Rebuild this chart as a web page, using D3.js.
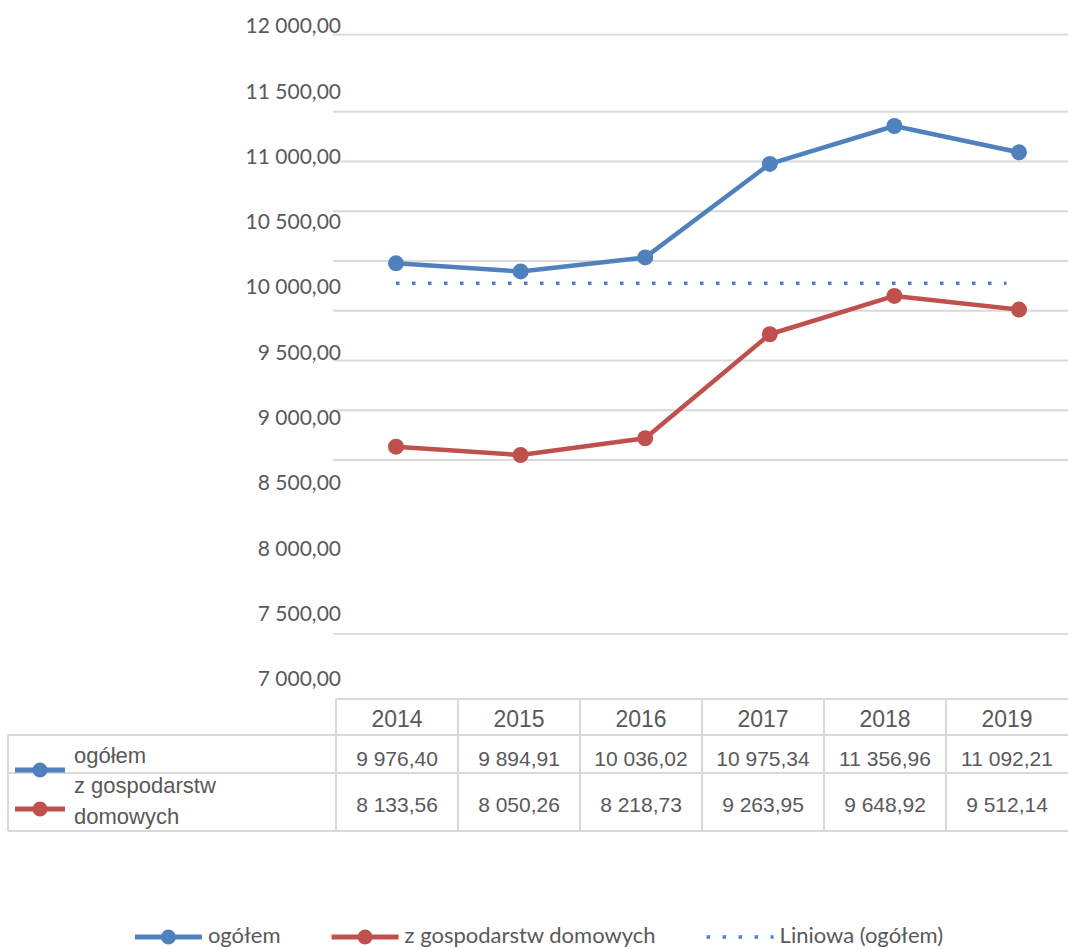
<!DOCTYPE html>
<html>
<head>
<meta charset="utf-8">
<script src="https://cdn.jsdelivr.net/npm/d3@7"></script>
<style>
  body { margin: 0; background: #fff; }
  svg { display: block; }
</style>
</head>
<body>
<svg id="chart" width="1068" height="949"></svg>
<script>
// data
const years = [2014, 2015, 2016, 2017, 2018, 2019]
const ogolem = [9976.40, 9894.91, 10036.02, 10975.34, 11356.96, 11092.21]
const gospodarstwa = [8133.56, 8050.26, 8218.73, 9263.95, 9648.92, 9512.14]
const seriesNames = ['ogółem', 'z gospodarstw domowych']
const yTicks = [7000, 7500, 8000, 8500, 9000, 9500, 10000, 10500, 11000, 11500, 12000]
// gridlines sit at uneven values in the reference
const gridValues = [6250, 8000, 8500, 9000, 9500, 10000, 10500, 11000, 11500, 12275]
const trendYears = [2014, 2018.9]
const trendValues = [9776, 9776]
const legendLabels = ['ogółem', 'z gospodarstw domowych', 'Liniowa (ogółem)']

const BLUE = '#4f81bd'
const RED = '#c0504d'
const GRID = '#d9d9d9'
const TEXT = '#595959'

const pl = d3.formatLocale({ decimal: ',', thousands: ' ', grouping: [3], currency: ['', ' zł'] })
const fmt = pl.format(',.2f')

const svg = d3.select('#chart')
const width = 1068

// ------------------
// Scales
// ------------------
const x = d3.scaleLinear().domain([2014, 2019]).range([396, 1019])
const y = d3.scaleLinear().domain([7000, 12000]).range([559.5, 62])
const yLabel = d3.scaleLinear().domain([7000, 12000]).range([679, 26])
const col = d3.scaleBand().domain(years).range([336, 1068])

// ------------------
// Gridlines
// ------------------
svg.append('g')
  .selectAll('line')
  .data(gridValues)
  .join('line')
  .attr('x1', 333)
  .attr('x2', width)
  .attr('y1', d => y(d))
  .attr('y2', d => y(d))
  .attr('stroke', GRID)
  .attr('stroke-width', 1.8)

// ------------------
// Y axis labels
// ------------------
const yAxis = svg.append('g')
  .attr('transform', 'translate(341,0)')
  .call(d3.axisLeft(yLabel).tickValues(yTicks).tickFormat(fmt).tickSize(0).tickPadding(0))
yAxis.select('.domain').remove()
yAxis.selectAll('text')
  .attr('fill', TEXT)
  .attr('font-family', 'Lato, "Open Sans", sans-serif')
  .attr('font-size', 21)

// ------------------
// Trend line
// ------------------
svg.append('line')
  .attr('x1', x(trendYears[0]))
  .attr('x2', x(trendYears[1]))
  .attr('y1', y(trendValues[0]))
  .attr('y2', y(trendValues[1]))
  .attr('stroke', BLUE)
  .attr('stroke-width', 3.5)
  .attr('stroke-dasharray', '3.5 12.5')

// ------------------
// Series
// ------------------
const series = [
  { name: seriesNames[0], values: ogolem, color: BLUE },
  { name: seriesNames[1], values: gospodarstwa, color: RED }
]
const line = d3.line()
  .x((d, i) => x(years[i]))
  .y(d => y(d))

series.forEach(s => {
  const g = svg.append('g')
  g.append('path')
    .attr('d', line(s.values))
    .attr('fill', 'none')
    .attr('stroke', s.color)
    .attr('stroke-width', 4.5)
    .attr('stroke-linejoin', 'round')
  g.selectAll('circle')
    .data(s.values)
    .join('circle')
    .attr('cx', (d, i) => x(years[i]))
    .attr('cy', d => y(d))
    .attr('r', 8)
    .attr('fill', s.color)
})

// ------------------
// Data table
// ------------------
const table = svg.append('g')
const rowTop = [735, 773]
const rowBottom = 831
const border = (x1, y1, x2, y2) => table.append('line')
  .attr('x1', x1).attr('y1', y1).attr('x2', x2).attr('y2', y2)
  .attr('stroke', GRID).attr('stroke-width', 2)

border(336, 699, width, 699)
rowTop.forEach(t => border(8, t, width, t))
border(8, rowBottom, width, rowBottom)
border(8, rowTop[0], 8, rowBottom)
years.forEach(yr => border(col(yr), 699, col(yr), rowBottom))

table.selectAll('text.year')
  .data(years)
  .join('text')
  .attr('class', 'year')
  .attr('x', d => col(d) + col.bandwidth() / 2)
  .attr('y', 727)
  .attr('text-anchor', 'middle')
  .attr('font-family', '"Liberation Sans", Arial, sans-serif')
  .attr('font-size', 23)
  .attr('fill', TEXT)
  .text(d => d)

const valueBaselines = [765.5, 812]
series.forEach((s, si) => {
  table.append('g')
    .selectAll('text')
    .data(s.values)
    .join('text')
    .attr('x', (d, i) => col(years[i]) + col.bandwidth() / 2)
    .attr('y', valueBaselines[si])
    .attr('text-anchor', 'middle')
    .attr('font-family', '"Liberation Sans", Arial, sans-serif')
    .attr('font-size', 21)
    .attr('fill', TEXT)
    .text(d => fmt(d))
})

// row keys
const rowKeyY = [770, 809]
series.forEach((s, si) => {
  table.append('line')
    .attr('x1', 15).attr('x2', 65)
    .attr('y1', rowKeyY[si]).attr('y2', rowKeyY[si])
    .attr('stroke', s.color).attr('stroke-width', 5)
  table.append('circle')
    .attr('cx', 40).attr('cy', rowKeyY[si]).attr('r', 7.5)
    .attr('fill', s.color)
})

// row labels
const rowLabelLines = [['ogółem'], ['z gospodarstw', 'domowych']]
const rowLabelY = [[763], [793, 824]]
rowLabelLines.forEach((lines, ri) => {
  lines.forEach((txt, li) => {
    table.append('text')
      .attr('x', 74)
      .attr('y', rowLabelY[ri][li])
      .attr('font-family', '"Liberation Sans", Arial, sans-serif')
      .attr('font-size', 22)
      .attr('fill', TEXT)
      .text(txt)
  })
})

// ------------------
// Legend
// ------------------
const legend = svg.append('g')
const keyW = 67
const keyGap = 6
const itemGap = 51
const legendY = 937
const legendBase = 943
const items = legend.selectAll('g')
  .data(legendLabels)
  .join('g')
items.append('text')
  .attr('x', keyW + keyGap)
  .attr('y', legendBase - legendY)
  .attr('font-family', 'Lato, "Open Sans", sans-serif')
  .attr('font-size', 22)
  .attr('fill', TEXT)
  .text(d => d)

const legendColors = [BLUE, RED, BLUE]
items.each(function (d, i) {
  const g = d3.select(this)
  if (i < 2) {
    g.append('line')
      .attr('x1', 0).attr('x2', keyW).attr('y1', 0).attr('y2', 0)
      .attr('stroke', legendColors[i]).attr('stroke-width', 5)
    g.append('circle')
      .attr('cx', keyW / 2).attr('cy', 0).attr('r', 7.5)
      .attr('fill', legendColors[i])
  } else {
    g.append('line')
      .attr('x1', 0).attr('x2', keyW).attr('y1', 0).attr('y2', 0)
      .attr('stroke', legendColors[i]).attr('stroke-width', 3.5)
      .attr('stroke-dasharray', '3.5 12.5')
  }
})

const widths = []
items.each(function () {
  const w = keyW + keyGap + d3.select(this).select('text').node().getComputedTextLength()
  widths.push(w)
})
const total = d3.sum(widths) + itemGap * (widths.length - 1)
let cursor = 539 - total / 2
items.each(function (d, i) {
  d3.select(this).attr('transform', `translate(${cursor},${legendY})`)
  cursor += widths[i] + itemGap
})
</script>
</body>
</html>
